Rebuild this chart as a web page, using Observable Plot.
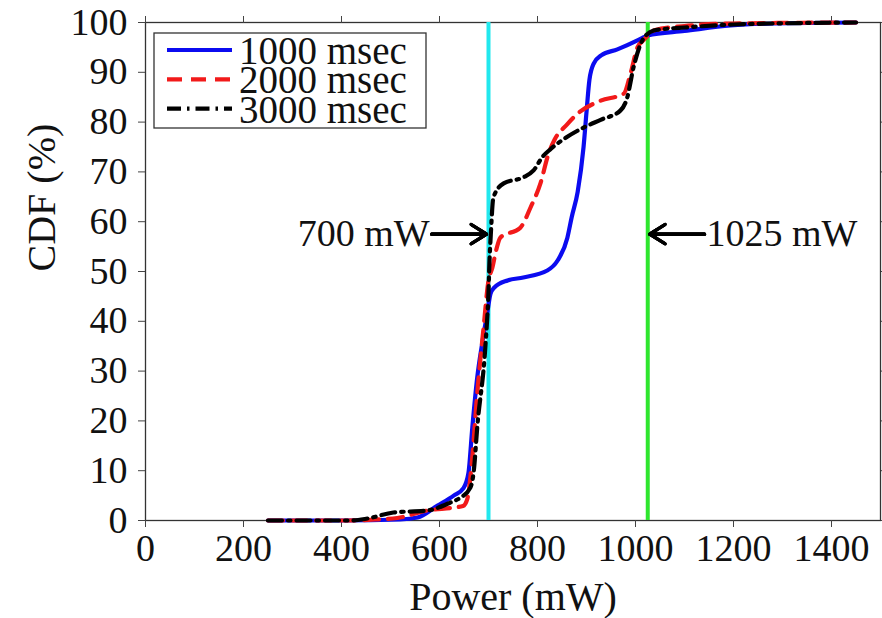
<!DOCTYPE html>
<html>
<head>
<meta charset="utf-8">
<script src="https://cdn.jsdelivr.net/npm/d3@7"></script>
<script src="https://cdn.jsdelivr.net/npm/@observablehq/plot@0.6"></script>
<style>
  body { margin: 0; background: #fff; }
  #chart svg { display: block; }
</style>
</head>
<body>
<div id="chart"></div>
<script>
// Power-draw CDFs for three sampling intervals
const seriesNames = ["1000 msec", "2000 msec", "3000 msec"];

const power1000 = [250, 400, 520, 555, 596, 629, 649, 659, 667, 677, 687, 698, 704, 712, 739, 771, 820, 841, 861, 870, 882, 894, 900, 906, 915, 930, 963, 1004, 1016, 1025, 1100, 1194, 1282, 1450];
const cdf1000   = [0, 0, 0.2, 0.6, 3, 5, 6.5, 9.5, 18.7, 28.7, 35.5, 42, 45.5, 46.8, 48.2, 48.8, 50.2, 52.2, 56.8, 61, 66, 75, 82, 88.5, 91.8, 93.4, 94.6, 96.4, 97, 97.4, 98.3, 99.4, 99.8, 100];

const power2000 = [250, 400, 470, 514, 575, 629, 648, 657, 665, 677, 690, 700, 708, 715, 724, 765, 786, 806, 822, 835, 860, 882, 929, 976, 990, 1004, 1016, 1040, 1100, 1200, 1450];
const cdf2000   = [0, 0, 0.2, 0.5, 2, 2.6, 2.9, 4.4, 10.6, 25.5, 38.8, 48.2, 50.8, 54, 56.8, 58.8, 62.9, 67.7, 73.5, 76.5, 79.5, 81.7, 84.3, 85.7, 89.8, 95, 96.4, 98.5, 99.3, 99.8, 100];

const power3000 = [250, 420, 453, 506, 575, 622, 643, 663, 670, 677, 694, 700, 702, 705, 710, 731, 771, 792, 810, 827, 860, 894, 930, 969, 983, 996, 1014, 1037, 1060, 1100, 1200, 1450];
const cdf3000   = [0, 0, 0.4, 1.6, 2, 3.6, 4.6, 6.6, 10, 18.7, 35.5, 46, 52, 58, 64.9, 67.7, 68.9, 70.3, 73, 74.6, 77, 78.9, 80.5, 82.3, 84.9, 91, 96.4, 98.4, 98.7, 99, 99.6, 100];

const xTicks = [0, 200, 400, 600, 800, 1000, 1200, 1400];
const yTicks = [0, 10, 20, 30, 40, 50, 60, 70, 80, 90, 100];

// Reference power levels and their callouts
const markerPowers = [700, 1025];
const markerLabels = ["700 mW", "1025 mW"];
const markerLevel = 57.5;

const seriesColors = ["#0b0bf0", "#f21a1a", "#000000"];
const seriesDashes = [null, "15,9", "14,6,2.5,6"];
const markerColors = ["#22e8ee", "#2ee62e"];

const seriesData = [
  [power1000, cdf1000],
  [power2000, cdf2000],
  [power3000, cdf3000]
].map(([p, c]) => p.map((v, i) => ({power: v, cdf: c[i]})));

const fontFamily = "'Liberation Serif', 'Times New Roman', serif";

// Callout arrows: left one points right at 700 mW, right one points left at 1025 mW
const callouts = markerPowers.map((p, i) => {
  const side = i === 0 ? -1 : 1;
  return {
    label: markerLabels[i],
    tip: p + side * 4,
    tail: p + side * 116,
    textX: p + side * 120,
    side
  };
});

const arrowHeads = [16, 12, 8, 4];
const fmt = d => String(d);

const chart = Plot.plot({
  width: 882,
  height: 618,
  marginLeft: 145,
  marginRight: 2,
  marginTop: 22,
  marginBottom: 98,
  style: {fontFamily, fontSize: "38px", background: "#fff", color: "#111"},
  x: {domain: [0, 1500]},
  y: {domain: [0, 100]},
  marks: [
    Plot.frame({stroke: "#333", strokeWidth: 1.3}),
    Plot.axisX(xTicks, {tickSize: 7, tickPadding: 7, fontSize: 38, tickFormat: fmt, label: null, stroke: "#444"}),
    Plot.axisX(xTicks, {anchor: "top", tickSize: 7, tickFormat: () => "", label: null, stroke: "#444"}),
    Plot.axisY(yTicks, {tickSize: 7, tickPadding: 11, fontSize: 38, tickFormat: fmt, label: null, stroke: "#444"}),
    Plot.axisY(yTicks, {anchor: "right", tickSize: 7, tickFormat: () => "", label: null, stroke: "#444"}),
    Plot.text(["Power (mW)"], {frameAnchor: "bottom", dy: 77, fontSize: 40, lineAnchor: "middle", fill: "#111"}),
    Plot.text(["CDF (%)"], {frameAnchor: "left", dx: -103, rotate: -90, fontSize: 40, lineAnchor: "middle", fill: "#111"}),
    ...markerPowers.map((p, i) => Plot.ruleX([p], {stroke: markerColors[i], strokeWidth: 4})),
    ...seriesData.map((data, i) => Plot.line(data, {
      x: "power",
      y: "cdf",
      stroke: seriesColors[i],
      strokeWidth: 4.2,
      strokeDasharray: seriesDashes[i],
      curve: "monotone-x"
    })),
    ...arrowHeads.map(h => Plot.arrow(callouts, {
      x1: "tail", x2: "tip", y1: () => markerLevel, y2: () => markerLevel,
      stroke: "#000", strokeWidth: 3.2, headLength: h, headAngle: 64
    })),
    Plot.text(callouts.filter(c => c.side < 0), {
      x: "textX", y: () => markerLevel, text: "label",
      textAnchor: "end", fontSize: 38, fill: "#111", lineAnchor: "middle"
    }),
    Plot.text(callouts.filter(c => c.side > 0), {
      x: "textX", y: () => markerLevel, text: "label",
      textAnchor: "start", fontSize: 38, fill: "#111", lineAnchor: "middle"
    })
  ]
});

// Boxed legend in the upper-left corner of the plot area
const svg = d3.select(chart);
const legend = svg.append("g")
  .attr("font-family", fontFamily)
  .attr("font-size", 39)
  .attr("text-anchor", "start");
legend.append("rect")
  .attr("x", 154).attr("y", 33).attr("width", 272).attr("height", 95)
  .attr("fill", "#fff").attr("stroke", "#333").attr("stroke-width", 1.3);
seriesNames.forEach((name, i) => {
  const y = 50 + i * 29.3;
  legend.append("line")
    .attr("x1", 167).attr("x2", 232).attr("y1", y).attr("y2", y)
    .attr("stroke", seriesColors[i]).attr("stroke-width", 4.2)
    .attr("stroke-dasharray", seriesDashes[i]);
  legend.append("text")
    .attr("x", 239).attr("y", y + 14)
    .attr("text-anchor", "start")
    .attr("fill", "#111")
    .text(name);
});

document.getElementById("chart").append(chart);
</script>
</body>
</html>
